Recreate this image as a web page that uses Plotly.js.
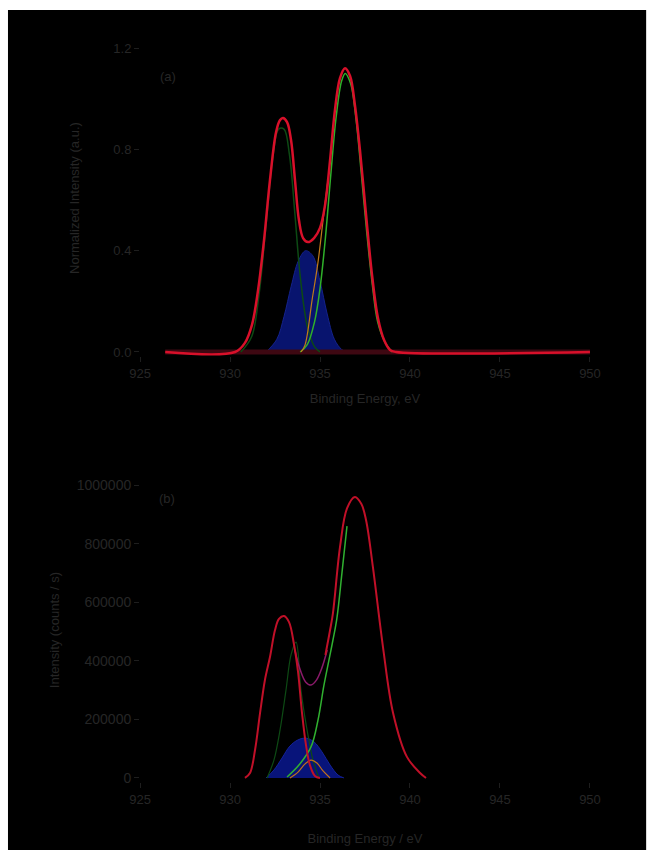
<!DOCTYPE html>
<html>
<head>
<meta charset="utf-8">
<script src="https://cdn.plot.ly/plotly-3.0.1.min.js"></script>
<style>html,body{margin:0;padding:0;background:#fff;}#chart{width:654px;height:861px;}</style>
</head>
<body>
<div id="chart"></div>
<script>
// ---------- Panel (a) data (binding energy, normalized intensity) ----------
const aEnvX = [926.4, 930.28, 930.83, 931.22, 931.56, 931.89, 932.22, 932.56, 932.78, 932.94, 933.17, 933.39, 933.61, 933.83, 934.06, 934.33, 934.67, 935.0, 935.28, 935.56, 935.83, 936.11, 936.39, 936.67, 936.94, 937.22, 937.56, 937.89, 938.22, 938.56, 938.89, 939.22, 950];
const aEnvY = [0, 0, 0.036, 0.107, 0.245, 0.442, 0.679, 0.869, 0.916, 0.924, 0.908, 0.837, 0.679, 0.521, 0.450, 0.434, 0.450, 0.490, 0.580, 0.758, 0.955, 1.082, 1.121, 1.090, 0.975, 0.797, 0.541, 0.304, 0.134, 0.047, 0.008, 0, 0];
const aC1X = [930.6, 931.2, 931.6, 932.0, 932.4, 932.7, 933.0, 933.3, 933.6, 933.9, 934.3, 934.7, 935.0];
const aC1Y = [0, 0.06, 0.22, 0.50, 0.78, 0.88, 0.88, 0.78, 0.55, 0.30, 0.10, 0.02, 0];
const aC2X = [932.0, 932.6, 933.0, 933.4, 933.8, 934.2, 934.6, 935.0, 935.4, 935.8, 936.2, 936.5];
const aC2Y = [0, 0.05, 0.14, 0.26, 0.36, 0.40, 0.38, 0.28, 0.15, 0.05, 0.01, 0];
const aC3X = [933.9, 934.3, 934.7, 935.0, 935.3, 935.6, 935.9, 936.2, 936.4, 936.7, 937.0, 937.3, 937.6, 937.9, 938.2, 938.6, 939.0];
const aC3Y = [0, 0.03, 0.12, 0.25, 0.45, 0.70, 0.93, 1.07, 1.10, 1.06, 0.92, 0.70, 0.47, 0.27, 0.12, 0.04, 0];
const aC4X = [933.95, 934.17, 934.56, 934.89, 935.17, 935.44];
const aC4Y = [0, 0.028, 0.205, 0.355, 0.521, 0.679];
const aBaseX = [926.4, 950];
const aBaseY = [0, 0];

// ---------- Panel (b) data (binding energy, counts) ----------
const bP1X = [930.83, 931.11, 931.39, 931.67, 931.94, 932.22, 932.50, 932.72, 933.0, 933.28, 933.56, 933.78, 934.0, 934.22, 934.44, 934.72, 935.0];
const bP1Y = [0, 17000, 95600, 222000, 334500, 413000, 505000, 543000, 553000, 532000, 454000, 362000, 222000, 113000, 44000, 7000, 0];
const bValX = [933.6, 933.9, 934.2, 934.5, 934.8, 935.1, 935.4];
const bValY = [437000, 369000, 328000, 317000, 334000, 375000, 437000];
const bEnvX = [935.3, 935.56, 935.72, 936.11, 936.5, 936.94, 937.3, 937.56, 937.94, 938.5, 939.06, 939.83, 940.56, 940.89];
const bEnvY = [420000, 505000, 563000, 788000, 920000, 959000, 935000, 880000, 720000, 447000, 222000, 72000, 17000, 0];
const bC3X = [933.17, 933.83, 934.5, 934.89, 935.22, 935.5, 935.72, 935.94, 936.22, 936.5];
const bC3Y = [3400, 44000, 106000, 198000, 317000, 403000, 471000, 546000, 700000, 860000];
const bC2X = [932.0, 932.44, 932.89, 933.33, 933.78, 934.22, 934.67, 935.11, 935.56, 936.0, 936.33];
const bC2Y = [0, 27000, 68000, 109000, 130000, 136000, 123000, 89000, 44000, 10000, 0];
const bC4X = [933.33, 933.78, 934.17, 934.5, 934.83, 935.17, 935.56];
const bC4Y = [0, 20000, 48000, 61000, 51000, 24000, 0];
const bC5X = [932.06, 932.44, 932.78, 933.11, 933.39, 933.67, 933.94, 934.28, 934.61, 934.94];
const bC5Y = [0, 61000, 164000, 300000, 420000, 464000, 300000, 164000, 61000, 0];

const xTicks = [925, 930, 935, 940, 945, 950];
const aYTicks = [0, 0.4, 0.8, 1.2];
const bYTicks = [0, 200000, 400000, 600000, 800000, 1000000];

const txt = '#262626';
const fnt = {family: 'Liberation Sans, Arial, sans-serif', size: 13, color: txt};
const fntB = {family: 'Liberation Sans, Arial, sans-serif', size: 14, color: txt};

const traces = [
  // panel a
  {x: aC2X, y: aC2Y, xaxis: 'x', yaxis: 'y', mode: 'lines', fill: 'tozeroy', fillcolor: '#08146e', line: {color: '#14228a', width: 1, shape: 'spline'}},
  {x: aBaseX, y: aBaseY, xaxis: 'x', yaxis: 'y', mode: 'lines', line: {color: '#3e0812', width: 5}},
  {x: aC1X, y: aC1Y, xaxis: 'x', yaxis: 'y', mode: 'lines', line: {color: '#0d4a14', width: 1.5, shape: 'spline'}},
  {x: aC3X, y: aC3Y, xaxis: 'x', yaxis: 'y', mode: 'lines', line: {color: '#2fb02a', width: 1.5, shape: 'spline'}},
  {x: aC4X, y: aC4Y, xaxis: 'x', yaxis: 'y', mode: 'lines', line: {color: '#c07a1a', width: 1.2, shape: 'spline'}},
  {x: aEnvX, y: aEnvY, xaxis: 'x', yaxis: 'y', mode: 'lines', line: {color: '#d8102a', width: 2.5, shape: 'spline'}},
  // panel b
  {x: bC2X, y: bC2Y, xaxis: 'x2', yaxis: 'y2', mode: 'lines', fill: 'tozeroy', fillcolor: '#08147a', line: {color: '#14229a', width: 1, shape: 'spline'}},
  {x: bC5X, y: bC5Y, xaxis: 'x2', yaxis: 'y2', mode: 'lines', line: {color: '#0d4a14', width: 1.2, shape: 'spline'}},
  {x: bC4X, y: bC4Y, xaxis: 'x2', yaxis: 'y2', mode: 'lines', line: {color: '#c0701a', width: 1.2, shape: 'spline'}},
  {x: bC3X, y: bC3Y, xaxis: 'x2', yaxis: 'y2', mode: 'lines', line: {color: '#30b030', width: 1.5, shape: 'spline'}},
  {x: bValX, y: bValY, xaxis: 'x2', yaxis: 'y2', mode: 'lines', line: {color: '#8a1a6a', width: 1.5, shape: 'spline'}},
  {x: bP1X, y: bP1Y, xaxis: 'x2', yaxis: 'y2', mode: 'lines', line: {color: '#c01028', width: 2, shape: 'spline'}},
  {x: bEnvX, y: bEnvY, xaxis: 'x2', yaxis: 'y2', mode: 'lines', line: {color: '#c01028', width: 2, shape: 'spline'}}
];

const axCommon = {
  showgrid: false, zeroline: false, showline: false,
  ticks: 'outside', ticklen: 5, tickcolor: '#1e1e1e',
  tickfont: fnt, color: txt
};

const layout = {
  width: 654, height: 861,
  margin: {l: 0, r: 0, t: 0, b: 0},
  paper_bgcolor: '#ffffff', plot_bgcolor: '#000000',
  showlegend: false,
  font: fnt,
  xaxis: Object.assign({}, axCommon, {domain: [0.2141, 0.9021], range: [925, 950], tickvals: xTicks, anchor: 'y',
    title: {text: 'Binding Energy, eV', font: fnt, standoff: 14}}),
  yaxis: Object.assign({}, axCommon, {domain: [0.5865, 0.9535], range: [-0.016, 1.232], tickvals: aYTicks, tickformat: '.1f', anchor: 'x',
    title: {text: 'Normalized Intensity (a.u.)', font: fnt, standoff: 30}}),
  xaxis2: Object.assign({}, axCommon, {domain: [0.2141, 0.9021], range: [925, 950], tickvals: xTicks, anchor: 'y2',
    title: {text: 'Binding Energy / eV', font: fnt, standoff: 28}}),
  yaxis2: Object.assign({}, axCommon, {domain: [0.0918, 0.4448], range: [-13650, 1024000], tickvals: bYTicks, tickformat: 'd', tickfont: fntB, anchor: 'x2',
    title: {text: 'Intensity (counts / s)', font: fnt, standoff: 14}}),
  shapes: [
    {type: 'rect', xref: 'paper', yref: 'paper', x0: 0.0122, x1: 0.988, y0: 0.0128, y1: 0.9884, fillcolor: '#000000', line: {width: 0}, layer: 'below'}
  ],
  annotations: [
    {text: '(a)', xref: 'paper', yref: 'paper', x: 0.2416, y: 0.922, showarrow: false, font: fnt},
    {text: '(b)', xref: 'paper', yref: 'paper', x: 0.240, y: 0.4216, showarrow: false, font: fnt}
  ]
};

Plotly.newPlot('chart', traces, layout, {displayModeBar: false, staticPlot: true});
</script>
</body>
</html>
